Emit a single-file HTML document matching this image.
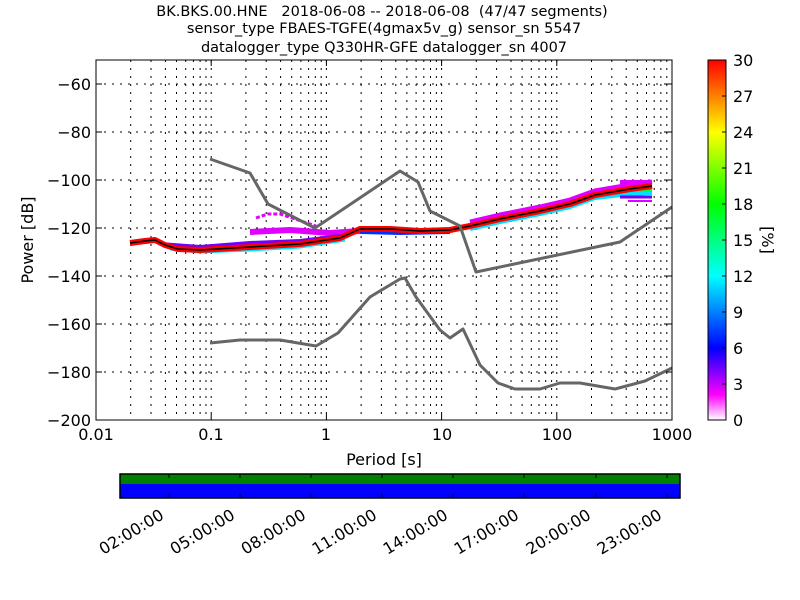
<!DOCTYPE html>
<html><head><meta charset="utf-8"><style>
html,body{margin:0;padding:0;background:#fff;}
svg{display:block;font-family:"DejaVu Sans","Liberation Sans",sans-serif;}
</style></head><body>
<svg width="800" height="600" viewBox="0 0 800 600" xmlns="http://www.w3.org/2000/svg">
<defs>
<linearGradient id="cb" x1="0" y1="1" x2="0" y2="0">
<stop offset="0" stop-color="#ffffff"/>
<stop offset="0.07" stop-color="#ff00ff"/>
<stop offset="0.2" stop-color="#0000ff"/>
<stop offset="0.4" stop-color="#00ffff"/>
<stop offset="0.6" stop-color="#00ff00"/>
<stop offset="0.8" stop-color="#ffff00"/>
<stop offset="1" stop-color="#ff0000"/>
</linearGradient>
</defs>
<rect width="800" height="600" fill="#fff"/>
<g font-size="14.5" text-anchor="middle" fill="#000">
<text x="382" y="16">BK.BKS.00.HNE&#160;&#160;&#160;2018-06-08 -- 2018-06-08&#160;&#160;(47/47 segments)</text>
<text x="384" y="33">sensor_type FBAES-TGFE(4gmax5v_g) sensor_sn 5547</text>
<text x="384" y="52">datalogger_type Q330HR-GFE datalogger_sn 4007</text>
</g>
<g id="grid" stroke="#000" stroke-width="1" stroke-dasharray="2,6" fill="none">
<path d="M96 84H672M96 132H672M96 180H672M96 228H672M96 276H672M96 324H672M96 372H672"/>
<path d="M130.7 60V420M151 60V420M165.4 60V420M176.5 60V420M185.7 60V420M193.4 60V420M200.1 60V420M206 60V420
M211.2 60V420M245.9 60V420M266.2 60V420M280.6 60V420M291.7 60V420M300.9 60V420M308.6 60V420M315.3 60V420M321.2 60V420
M326.4 60V420M361.1 60V420M381.4 60V420M395.8 60V420M406.9 60V420M416.1 60V420M423.8 60V420M430.5 60V420M436.4 60V420
M441.6 60V420M476.3 60V420M496.6 60V420M511 60V420M522.1 60V420M531.3 60V420M539 60V420M545.7 60V420M551.6 60V420
M556.8 60V420M591.5 60V420M611.8 60V420M626.2 60V420M637.3 60V420M646.5 60V420M654.2 60V420M660.9 60V420M666.8 60V420"/>
</g>
<g fill="none" stroke-linejoin="round">
<path d="M256 218L268 214L280 214L292 218L304 222L316 226" stroke="#e000ff" stroke-width="3" stroke-dasharray="4,2"/>
<path d="M250 232L290 230L330 233L360 231" stroke="#e000ff" stroke-width="6"/>
<path d="M160 244L200 247L250 243L300 241L340 236" stroke="#7000ff" stroke-width="4"/>
<path d="M170 249L200 252L250 250L300 247L345 240" stroke="#00e0ff" stroke-width="3"/>
<path d="M360 232L400 233L450 232" stroke="#0030ff" stroke-width="4"/>
<path d="M470 222L500 215L540 207L570 200L595 191L630 185L652 182" stroke="#e000ff" stroke-width="5"/>
<path d="M470 229L500 222L540 214L570 207L595 198L630 194L652 193" stroke="#00e0ff" stroke-width="4"/>
<path d="M620 182H652" stroke="#e000ff" stroke-width="4"/>
<path d="M620 197H652" stroke="#7000ff" stroke-width="3"/>
<path d="M628 201H652" stroke="#e000ff" stroke-width="2"/>
<path d="M630 190H652" stroke="#00ff30" stroke-width="4"/>
<path d="M130 243L145 241L155 240L165 245L178 249L200 250L250 247L300 244L340 238L360 229L390 229L420 231L450 230L470 226L500 219L540 211L570 204L595 195L630 189L652 186" stroke="#ff0000" stroke-width="6"/>
<path d="M130 243L145 241L155 240L165 245L178 249L200 250L250 247L300 244L340 238L360 229L390 229L420 231L450 230L470 226L500 219L540 211L570 204L595 195L630 189L652 186" stroke="#000" stroke-width="1.5"/>
</g>
<g fill="none" stroke="#666" stroke-width="3" stroke-linejoin="round">
<path d="M210 159L250 173L268 204L315 228L400 171L418 182L430 211L460 226L476 272L620 242L672 207"/>
<path d="M210 343L240 340L280 340L316 346L338 333L370 297L400 279L405 278L416 297L440 330L450 338L463 329L480 365L498 383L515 389L540 389L560 383L580 383L615 389L645 381L672 368"/>
</g>
<rect x="96" y="60" width="576" height="360" fill="none" stroke="#000" stroke-width="1"/>
<g stroke="#000" stroke-width="1">
<path d="M96 84h6M96 132h6M96 180h6M96 228h6M96 276h6M96 324h6M96 372h6M672 84h-6M672 132h-6M672 180h-6M672 228h-6M672 276h-6M672 324h-6M672 372h-6"/>
<path d="M211.2 420v-6M326.4 420v-6M441.6 420v-6M556.8 420v-6M211.2 60v6M326.4 60v6M441.6 60v6M556.8 60v6"/>
</g>
<g font-size="16" fill="#000" text-anchor="end">
<text x="91" y="90">−60</text><text x="91" y="138">−80</text><text x="91" y="186">−100</text>
<text x="91" y="234">−120</text><text x="91" y="282">−140</text><text x="91" y="330">−160</text>
<text x="91" y="378">−180</text><text x="91" y="426">−200</text>
</g>
<g font-size="16" fill="#000" text-anchor="middle">
<text x="96" y="440">0.01</text><text x="211" y="440">0.1</text><text x="326" y="440">1</text>
<text x="442" y="440">10</text><text x="557" y="440">100</text><text x="672" y="440">1000</text>
<text x="384" y="465" font-size="16">Period [s]</text>
</g>
<text transform="translate(33,240) rotate(-90)" font-size="16" text-anchor="middle">Power [dB]</text>
<rect x="708" y="60" width="18" height="360" fill="url(#cb)" stroke="#000" stroke-width="1"/>
<g stroke="#000"><path d="M726 96h-4M726 132h-4M726 168h-4M726 204h-4M726 240h-4M726 276h-4M726 312h-4M726 348h-4M726 384h-4"/></g>
<g font-size="16" fill="#000">
<text x="733" y="66">30</text><text x="733" y="102">27</text><text x="733" y="138">24</text><text x="733" y="174">21</text>
<text x="733" y="210">18</text><text x="733" y="246">15</text><text x="733" y="282">12</text><text x="733" y="318">9</text>
<text x="733" y="354">6</text><text x="733" y="390">3</text><text x="733" y="426">0</text>
</g>
<text transform="translate(762,240) rotate(90)" font-size="16" text-anchor="middle">[%]</text>
<rect x="120" y="474" width="560" height="10" fill="#008000"/>
<rect x="120" y="484" width="560" height="14" fill="#0000ff"/>
<rect x="120" y="474" width="560" height="24" fill="none" stroke="#000" stroke-width="1.5"/>
<g stroke="#000"><path d="M169 474v4M240 474v4M311 474v4M382 474v4M453 474v4M524 474v4M596 474v4M667 474v4M169 498v-4M240 498v-4M311 498v-4M382 498v-4M453 498v-4M524 498v-4M596 498v-4M667 498v-4"/></g>
<g font-size="16" fill="#000" text-anchor="end">
<text transform="translate(165,518) rotate(-31)">02:00:00</text>
<text transform="translate(236,518) rotate(-31)">05:00:00</text>
<text transform="translate(307,518) rotate(-31)">08:00:00</text>
<text transform="translate(378,518) rotate(-31)">11:00:00</text>
<text transform="translate(449,518) rotate(-31)">14:00:00</text>
<text transform="translate(520,518) rotate(-31)">17:00:00</text>
<text transform="translate(592,518) rotate(-31)">20:00:00</text>
<text transform="translate(663,518) rotate(-31)">23:00:00</text>
</g>
</svg>
</body></html>
